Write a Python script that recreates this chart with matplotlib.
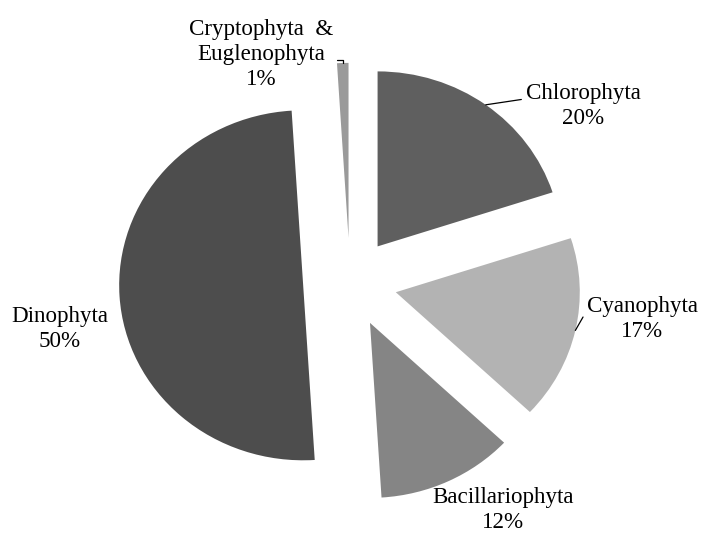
import numpy as np
import matplotlib.pyplot as plt

groups = ['Chlorophyta', 'Cyanophyta', 'Bacillariophyta', 'Dinophyta',
          'Cryptophyta  &\nEuglenophyta']
shares = [20, 17, 12, 50, 1]
colors = ['#5f5f5f', '#b3b3b3', '#858585', '#4d4d4d', '#9a9a9a']

label_xy = [(1.266, 1.01), (1.587, -0.21), (0.832, -1.30), (-1.576, -0.268), (-0.484, 1.305)]
# leader line settings: None = no leader
leaders = [
    dict(relpos=(0.0, 0.65), connectionstyle='arc3'),
    dict(relpos=(0.0, 0.68), connectionstyle='arc3'),
    None,
    None,
    dict(relpos=(1.0, 0.42), connectionstyle='angle,angleA=0,angleB=90,rad=0'),
]

fig = plt.figure(figsize=(7.02, 5.35), dpi=100)
ax = fig.add_axes([0, 0, 1, 1])

wedges, _ = ax.pie(shares, colors=colors, startangle=90, counterclock=False,
                   explode=[0.255] * len(shares),
                   wedgeprops=dict(linewidth=0))

# slightly wider than tall, like the original
cx, cy, rx, ry = 350, 282.5, 184, 175
ax.set_aspect('auto')
ax.set_xlim(-cx / rx, (702 - cx) / rx)
ax.set_ylim(-(535 - cy) / ry, cy / ry)
ax.axis('off')

font = dict(family='Liberation Serif', size=16.6, color='black')

for w, name, val, xy, ld in zip(wedges, groups, shares, label_xy, leaders):
    text = f'{name}\n{val}%'
    if ld is None:
        ax.text(xy[0], xy[1], text, ha='center', va='center',
                linespacing=1.25, fontdict=font)
        continue
    mid = np.deg2rad((w.theta1 + w.theta2) / 2)
    px = w.center[0] + w.r * np.cos(mid)
    py = w.center[1] + w.r * np.sin(mid)
    ax.annotate(text, xy=(px, py), xytext=xy, ha='center', va='center',
                linespacing=1.25, fontsize=font['size'], family=font['family'],
                arrowprops=dict(arrowstyle='-', color='black', lw=0.9,
                                shrinkA=1, shrinkB=0, **ld))

fig.savefig('out.png', dpi=100)
